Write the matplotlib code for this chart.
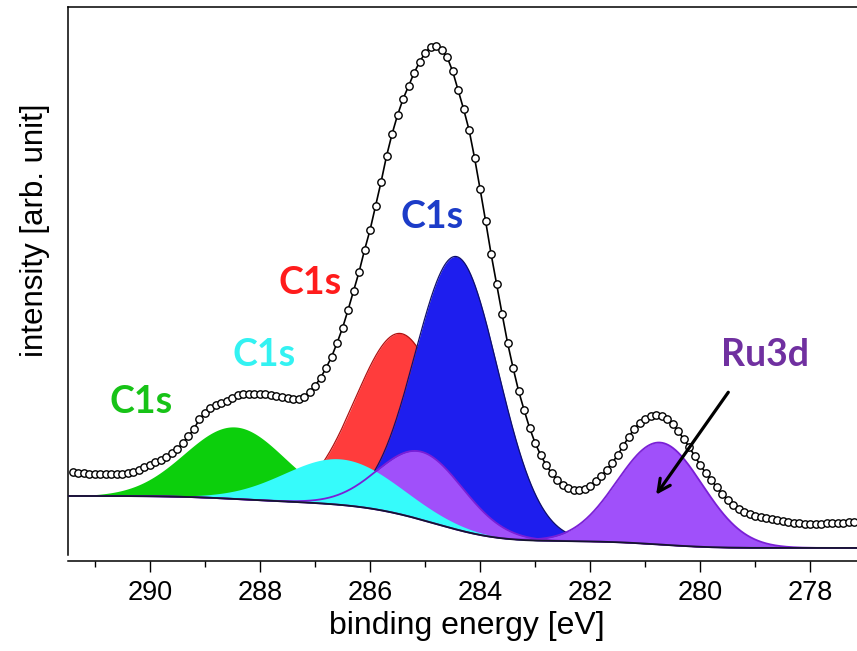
import numpy as np
import matplotlib
matplotlib.use("Agg")
import matplotlib.pyplot as plt
from matplotlib.ticker import MultipleLocator

plt.rcParams['font.family'] = ['Liberation Sans', 'DejaVu Sans']

# measured spectrum (open circles), 0.1 eV steps from 291.4 eV down to 277.2 eV
energy = np.round(np.linspace(291.4, 277.2, 143), 1)
counts = [
    83, 82, 82, 81, 81, 81, 81, 81, 81, 81,
    82, 83, 85, 88, 90, 93, 95, 98, 102, 106,
    112, 119, 126, 136, 142, 147, 150, 152, 154, 157,
    160, 161, 161, 161, 161, 161, 160, 159, 158, 157,
    156, 156, 158, 163, 169, 177, 187, 198, 212, 227,
    245, 264, 283, 305, 325, 349, 373, 399, 421, 440,
    456, 469, 482, 493, 502, 508, 509, 505, 498, 484,
    465, 446, 425, 397, 366, 334, 301, 271, 241, 212,
    187, 164, 145, 127, 112, 100, 90, 82, 75, 70,
    67, 65, 65, 66, 69, 74, 79, 85, 92, 100,
    109, 118, 126, 132, 136, 139, 140, 139, 136, 131,
    124, 116, 108, 99, 90, 82, 75, 68, 61, 55,
    50, 46, 43, 41, 39, 38, 37, 36, 35, 34,
    33, 32, 32, 31, 31, 31, 31, 32, 32, 32,
    32, 33, 33,
]

# fitted components (gaussians on a Shirley type background)
comp_names = ['C1s a', 'C1s b', 'C1s c', 'C1s d', 'Ru3d 3/2', 'Ru3d 5/2']
comp_center = [288.46, 286.53, 285.42, 284.42, 285.06, 280.73]
comp_height = [72, 46, 181, 273, 68, 102]
comp_fwhm = [2.13, 2.43, 1.96, 1.78, 1.82, 1.82]
bg_high, bg_low = 59, 7

# peak labels: text, energy, intensity
label_text = ['C1s', 'C1s', 'C1s', 'C1s', 'Ru3d']
label_x = [290.16, 287.93, 287.09, 284.88, 278.83]
label_y = [153, 200, 272, 338, 200]
label_col = ['#17C317', '#33F2F2', '#FF1C1C', '#1C3CC8', '#7030A0']

fill_col = ['#0CCF0C', '#36FBFB', '#FF3C3C', '#1E1EEE', '#A050FA', '#A050FA']
edge_col = ['#0CCF0C', '#36FBFB', '#B01010', '#10106A', '#7A1FD6', '#7A1FD6']
zord = [2, 6, 3, 4, 5, 5]

# model curves on a fine grid
e = np.linspace(277.0, 291.6, 1500)
peaks = []
for c, h, w in zip(comp_center, comp_height, comp_fwhm):
    s = w / 2.3548
    peaks.append(h * np.exp(-0.5 * ((e - c) / s) ** 2))
cum = np.cumsum(np.sum(peaks, axis=0))
bg = bg_low + (bg_high - bg_low) * cum / cum[-1]

fig = plt.figure(figsize=(8.57, 6.51), dpi=100)
ax = fig.add_axes([0.0793, 0.1475, 0.9207, 0.8417])

for i, p in enumerate(peaks):
    ax.fill_between(e, bg, bg + p, color=fill_col[i], lw=0, zorder=zord[i])
    if i in (2, 3):
        ax.plot(e, bg + p, color=edge_col[i], lw=0.9, zorder=zord[i])
    if i in (4, 5):
        ax.plot(e, bg + p, color=edge_col[i], lw=1.3, zorder=7)

ax.plot(e, bg, color='#15152e', lw=1.3, zorder=8)

ax.plot(energy, counts, '-o', color='black', lw=1.2, ms=5.3, mfc='white',
        mec='black', mew=1.0, zorder=10)

for t, x, y, c in zip(label_text, label_x, label_y, label_col):
    ax.text(x, y, t, color=c, fontsize=27, fontweight='bold', family='Lato',
            ha='center', va='center', zorder=11)

ax.annotate('', xy=(280.83, 58), xytext=(279.46, 165),
            arrowprops=dict(arrowstyle='->', color='black', lw=2.3,
                            mutation_scale=22), zorder=12)

ax.set_xlim(291.49, 277.15)
ax.set_ylim(0, 548)
ax.set_yticks([])
ax.xaxis.set_major_locator(MultipleLocator(2))
ax.xaxis.set_minor_locator(MultipleLocator(1))
ax.tick_params(axis='x', which='major', direction='out', length=8, width=1,
               labelsize=19.5, pad=5.5)
ax.tick_params(axis='x', which='minor', direction='out', length=4.3, width=1)

ax.spines['right'].set_visible(False)
ax.spines['bottom'].set_position(('outward', 4.3))
for sp in ('left', 'top', 'bottom'):
    ax.spines[sp].set_linewidth(1.1)

ax.set_xlabel('binding energy [eV]', fontsize=23)
ax.set_ylabel('intensity [arb. unit]', fontsize=22.5)
ax.xaxis.set_label_coords(0.505, -0.103)
ax.yaxis.set_label_coords(-0.023, 0.593)

fig.savefig('out.png', dpi=100)
